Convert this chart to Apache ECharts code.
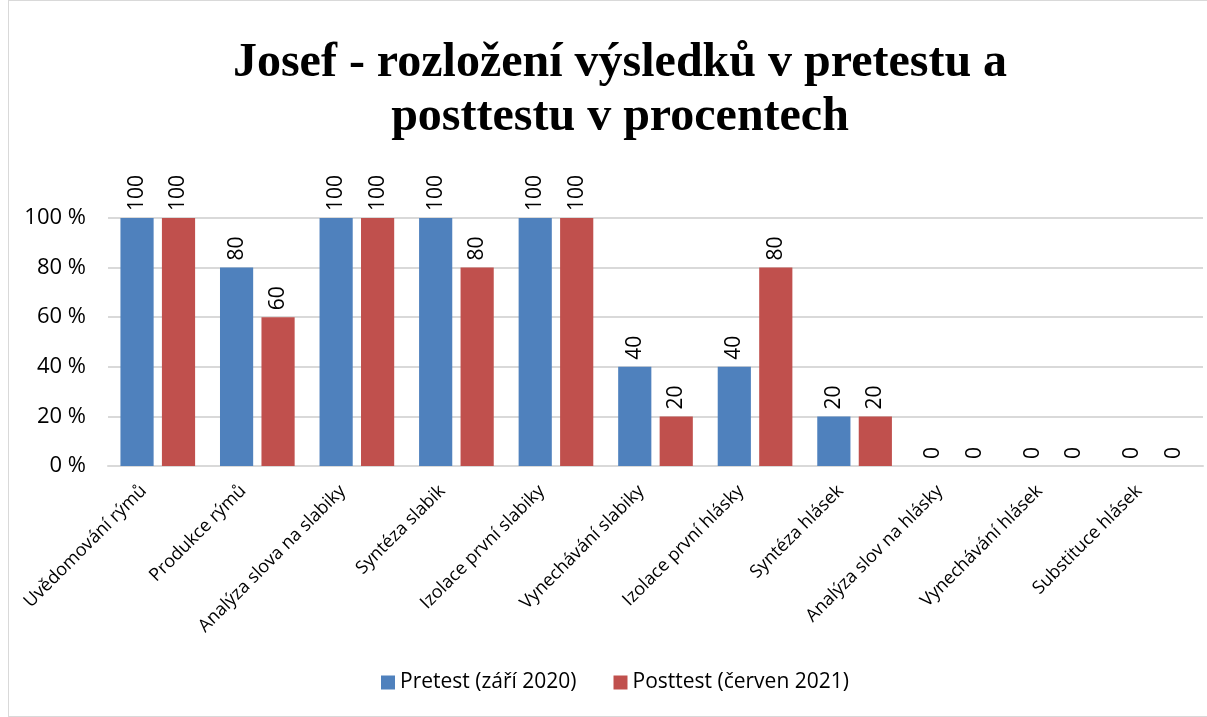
<!DOCTYPE html>
<html>
<head>
<meta charset="utf-8">
<script src="https://cdn.jsdelivr.net/npm/echarts@6/dist/echarts.min.js"></script>
<style>
html, body { margin: 0; padding: 0; background: #fff; }
#main { height: 717px; box-sizing: border-box; border: 1px solid #d9d9d9; border-right: none; margin-left: 8px; width: 1199px; }
</style>
</head>
<body>
<div id="main"></div>
<script>
// data
var categories = ['Uvědomování rýmů', 'Produkce rýmů', 'Analýza slova na slabiky', 'Syntéza slabik',
    'Izolace první slabiky', 'Vynechávání slabiky', 'Izolace první hlásky', 'Syntéza hlásek',
    'Analýza slov na hlásky', 'Vynechávání hlásek', 'Substituce hlásek'];
var pretest = [100, 80, 100, 100, 100, 40, 40, 20, 0, 0, 0];
var posttest = [100, 60, 100, 80, 100, 20, 80, 20, 0, 0, 0];
var yTicks = [0, 20, 40, 60, 80, 100];

var dom = document.getElementById('main');
var myChart = echarts.init(dom);
var font = '"Open Sans", "DejaVu Sans", sans-serif';

// popisky nad sloupci (otočené)
var barLabel = {
    show: true,
    position: 'top',
    rotate: 90,
    align: 'left',
    verticalAlign: 'middle',
    distance: 7,
    fontSize: 21,
    fontFamily: font,
    color: '#000'
};

var option = {
    animation: false,
    title: {
        text: 'Josef - rozložení výsledků v pretestu a\nposttestu v procentech',
        left: 606,
        textAlign: 'center',
        top: 31,
        textStyle: {
            fontFamily: '"Liberation Serif", "Times New Roman", serif',
            fontWeight: 'bold',
            fontSize: 48,
            lineHeight: 54,
            color: '#000'
        }
    },
    legend: {
        bottom: 18,
        left: 367,
        itemWidth: 14,
        itemHeight: 14,
        itemGap: 37,
        icon: 'rect',
        textStyle: { fontFamily: font, fontSize: 21, color: '#000' },
        data: ['Pretest (září 2020)', 'Posttest (červen 2021)']
    },
    grid: {
        left: 99,
        right: 4,
        top: 217,
        bottom: 250,
        containLabel: false,
        outerBoundsMode: 'none'
    },
    xAxis: {
        type: 'category',
        data: categories,
        axisLine: { lineStyle: { color: '#d9d9d9', width: 2 } },
        axisTick: { show: false },
        axisLabel: {
            rotate: 45,
            interval: 0,
            margin: 8,
            padding: [0, 20, 0, 0],
            fontSize: 18,
            fontFamily: font,
            color: '#000'
        }
    },
    yAxis: {
        type: 'value',
        min: yTicks[0],
        max: yTicks[yTicks.length - 1],
        interval: 20,
        axisLine: { show: false },
        axisTick: { show: false },
        splitLine: { lineStyle: { color: '#d9d9d9', width: 2 } },
        axisLabel: {
            formatter: '{value} %',
            margin: 22,
            fontSize: 22,
            fontFamily: font,
            color: '#000'
        }
    },
    series: [{
        name: 'Pretest (září 2020)',
        type: 'bar',
        data: pretest,
        barGap: '25%',
        barCategoryGap: '25%',
        itemStyle: { color: '#4f81bd' },
        label: barLabel
    }, {
        name: 'Posttest (červen 2021)',
        type: 'bar',
        data: posttest,
        itemStyle: { color: '#c0504d' },
        label: barLabel
    }]
};

if (option && typeof option === "object") {
    myChart.setOption(option, true);
}
</script>
</body>
</html>
